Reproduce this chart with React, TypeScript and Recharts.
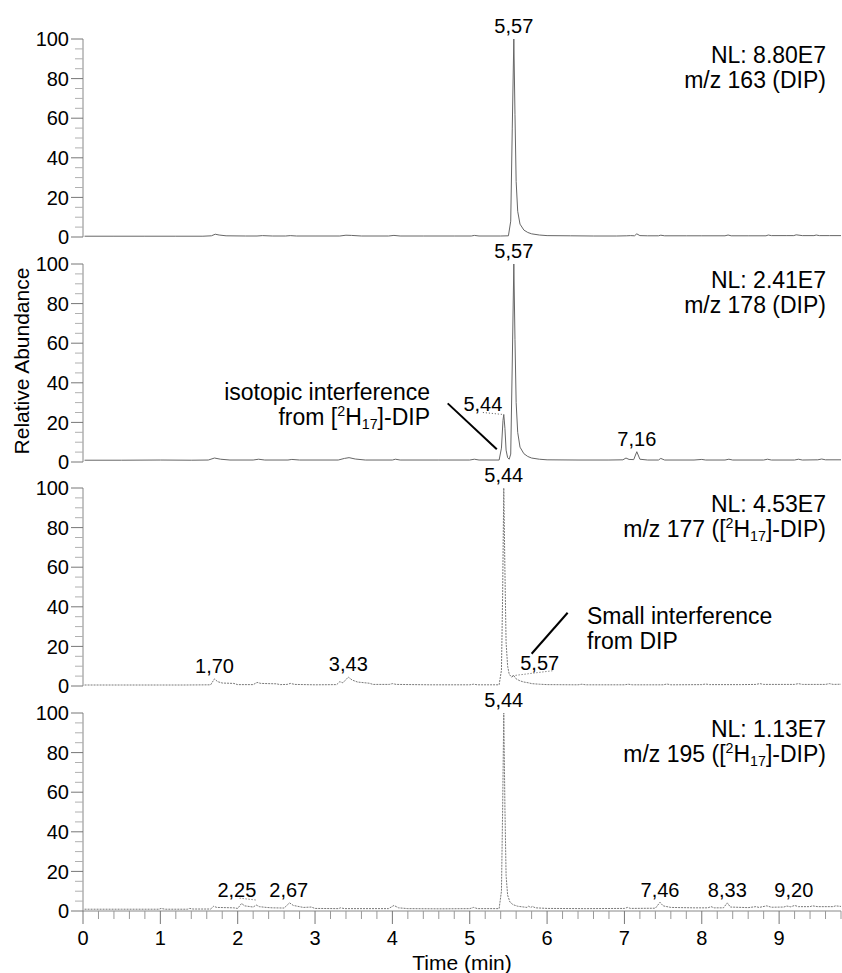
import React from "react";
import { LineChart, Line, XAxis, YAxis, ReferenceDot, ReferenceLine } from "recharts";

const FONT = '"Liberation Sans", Arial, Helvetica, sans-serif';

// [retention time (min), relative abundance (%)]
const trace163: [number, number][] = [
  [0.02, 0.4], [0.4, 0.4], [0.8, 0.4], [1.2, 0.4], [1.55, 0.4], [1.66, 0.6], [1.71, 1.4], [1.76, 1.0],
  [1.85, 0.6], [2.1, 0.5], [2.25, 0.5], [2.32, 0.7], [2.45, 0.5], [2.62, 0.5], [2.68, 0.7], [2.76, 0.5],
  [3.0, 0.5], [3.32, 0.5], [3.4, 0.9], [3.47, 0.8], [3.6, 0.5], [3.95, 0.5], [4.02, 0.8], [4.1, 0.5],
  [4.4, 0.5], [4.8, 0.5], [5.02, 0.5], [5.06, 0.8], [5.12, 0.5], [5.4, 0.5], [5.5, 0.6], [5.53, 8],
  [5.55, 55], [5.57, 100], [5.585, 62], [5.6, 28], [5.62, 13], [5.65, 6.5], [5.7, 3.5], [5.75, 2.3],
  [5.8, 1.6], [5.9, 1.0], [6.0, 0.7], [6.3, 0.6], [6.6, 0.5], [6.9, 0.5], [7.03, 0.6], [7.08, 0.7],
  [7.13, 0.6], [7.16, 1.6], [7.2, 0.7], [7.3, 0.6], [7.44, 0.6], [7.47, 0.9], [7.52, 0.6], [7.8, 0.6],
  [8.0, 0.6], [8.3, 0.6], [8.34, 1.0], [8.38, 0.6], [8.6, 0.6], [8.83, 0.6], [8.86, 1.0], [8.9, 0.7],
  [9.1, 0.7], [9.19, 0.7], [9.22, 1.1], [9.3, 0.7], [9.45, 0.7], [9.48, 1.0], [9.52, 0.7], [9.65, 0.7],
  [9.8, 0.7],
];

const trace178: [number, number][] = [
  [0.02, 0.9], [0.5, 0.9], [1.0, 1.0], [1.4, 0.9], [1.62, 1.0], [1.7, 2.0], [1.78, 1.4], [1.9, 1.0],
  [2.2, 1.0], [2.27, 1.4], [2.35, 1.0], [2.65, 1.0], [2.7, 1.3], [2.8, 1.0], [3.3, 1.0], [3.38, 1.8],
  [3.44, 2.2], [3.52, 1.5], [3.65, 1.0], [4.0, 1.0], [4.04, 1.4], [4.1, 1.0], [4.6, 1.0], [5.0, 1.0],
  [5.06, 1.4], [5.12, 1.0], [5.38, 1.0], [5.41, 7], [5.43, 21], [5.44, 24], [5.455, 17], [5.47, 6],
  [5.49, 2.2], [5.51, 1.4], [5.53, 4], [5.55, 50], [5.57, 100], [5.585, 62], [5.6, 30], [5.62, 15],
  [5.65, 7.5], [5.7, 4.2], [5.75, 2.8], [5.8, 2.0], [5.9, 1.4], [6.0, 1.1], [6.4, 1.0], [6.8, 1.0],
  [6.98, 1.1], [7.02, 2.0], [7.06, 1.3], [7.12, 1.2], [7.16, 5.2], [7.2, 1.4], [7.3, 1.0], [7.44, 1.0],
  [7.47, 1.8], [7.52, 1.0], [7.9, 1.0], [8.0, 1.3], [8.05, 1.0], [8.3, 1.0], [8.35, 1.4], [8.4, 1.0],
  [8.8, 1.0], [8.85, 1.4], [8.9, 1.0], [9.2, 1.0], [9.25, 1.4], [9.3, 1.0], [9.5, 1.1], [9.55, 1.5],
  [9.6, 1.1], [9.8, 1.1],
];

const trace177: [number, number][] = [
  [0.02, 0.5], [0.5, 0.5], [1.0, 0.5], [1.3, 0.5], [1.65, 0.6], [1.7, 3.6], [1.74, 2.2], [1.8, 1.5],
  [1.95, 1.3], [2.0, 0.7], [2.2, 0.7], [2.25, 1.8], [2.3, 1.3], [2.5, 1.1], [2.55, 0.7], [2.64, 0.8],
  [2.68, 1.3], [2.74, 0.8], [3.0, 0.6], [3.28, 0.7], [3.32, 2.2], [3.36, 1.6], [3.43, 4.5], [3.48, 3.0],
  [3.55, 2.0], [3.7, 1.4], [3.75, 0.8], [3.96, 0.8], [4.0, 1.2], [4.05, 0.8], [4.5, 0.6], [5.0, 0.6],
  [5.05, 0.9], [5.1, 0.6], [5.38, 0.6], [5.41, 8], [5.425, 45], [5.44, 100], [5.455, 58], [5.47, 22],
  [5.49, 10], [5.51, 6], [5.54, 4.5], [5.57, 5.2], [5.6, 3.6], [5.65, 2.6], [5.7, 2.0], [5.76, 1.6],
  [5.8, 1.2], [5.9, 0.9], [6.0, 0.7], [6.4, 0.6], [6.45, 0.9], [6.5, 0.6], [7.0, 0.6], [7.05, 0.9],
  [7.1, 0.6], [7.5, 0.6], [7.55, 1.0], [7.6, 0.6], [8.0, 0.7], [8.05, 1.0], [8.1, 0.7], [8.5, 0.7],
  [8.7, 0.8], [8.75, 1.2], [8.8, 0.8], [9.2, 0.8], [9.25, 1.2], [9.3, 0.8], [9.6, 0.8], [9.65, 1.2],
  [9.7, 0.8], [9.8, 0.9],
];

const trace195: [number, number][] = [
  [0.02, 0.9], [0.5, 0.9], [0.98, 0.9], [1.01, 1.3], [1.06, 0.9], [1.35, 0.9], [1.38, 1.3], [1.42, 1.0],
  [1.65, 1.0], [1.69, 2.4], [1.73, 1.8], [1.95, 1.6], [2.0, 1.3], [2.05, 3.8], [2.09, 2.6], [2.2, 2.0],
  [2.24, 3.0], [2.28, 2.2], [2.37, 1.8], [2.45, 1.6], [2.6, 1.5], [2.67, 4.1], [2.72, 2.8], [2.85, 1.8],
  [2.95, 2.0], [3.0, 1.3], [3.3, 1.2], [3.33, 1.6], [3.38, 1.2], [3.95, 1.2], [4.02, 2.8], [4.08, 1.6],
  [4.2, 1.2], [4.6, 1.1], [5.0, 1.2], [5.05, 1.8], [5.1, 1.2], [5.38, 1.2], [5.41, 10], [5.425, 50],
  [5.44, 100], [5.455, 52], [5.47, 18], [5.49, 8], [5.52, 4.5], [5.56, 3.2], [5.62, 2.4], [5.7, 2.0],
  [5.74, 1.8], [5.76, 2.4], [5.79, 1.8], [5.81, 2.3], [5.85, 1.6], [6.0, 1.3], [6.5, 1.2], [7.0, 1.3],
  [7.04, 1.8], [7.08, 1.3], [7.4, 1.4], [7.46, 4.4], [7.5, 2.6], [7.6, 1.8], [7.9, 1.6], [8.08, 1.6],
  [8.12, 2.2], [8.16, 1.6], [8.28, 1.6], [8.33, 4.1], [8.37, 2.0], [8.6, 1.7], [8.7, 2.2], [8.74, 1.8],
  [8.84, 2.6], [8.9, 1.9], [9.06, 2.0], [9.1, 2.5], [9.15, 2.1], [9.2, 2.8], [9.25, 2.2], [9.4, 2.2],
  [9.43, 2.6], [9.5, 2.2], [9.7, 2.2], [9.73, 2.6], [9.8, 2.3],
];

const yTicks = [0, 5, 10, 15, 20, 25, 30, 35, 40, 45, 50, 55, 60, 65, 70, 75, 80, 85, 90, 95, 100];
const xTicks = Array.from({ length: 50 }, (_, i) => Math.round(i * 2) / 10);

type PeakLabel = { t: number; v: number; text: string; pos: "top" | "center" };
type Seg = { a: [number, number]; b: [number, number]; dotted?: boolean };

const labels163: PeakLabel[] = [{ t: 5.57, v: 100, text: "5,57", pos: "top" }];
const labels178: PeakLabel[] = [
  { t: 5.57, v: 100, text: "5,57", pos: "top" },
  { t: 5.17, v: 29.3, text: "5,44", pos: "center" },
  { t: 7.16, v: 5.2, text: "7,16", pos: "top" },
];
const labels177: PeakLabel[] = [
  { t: 5.44, v: 100, text: "5,44", pos: "top" },
  { t: 1.7, v: 3.6, text: "1,70", pos: "top" },
  { t: 3.43, v: 4.5, text: "3,43", pos: "top" },
  { t: 5.905, v: 11.5, text: "5,57", pos: "center" },
];
const labels195: PeakLabel[] = [
  { t: 5.44, v: 100, text: "5,44", pos: "top" },
  { t: 1.99, v: 10.5, text: "2,25", pos: "center" },
  { t: 2.66, v: 10.5, text: "2,67", pos: "center" },
  { t: 7.46, v: 10.5, text: "7,46", pos: "center" },
  { t: 8.33, v: 10.5, text: "8,33", pos: "center" },
  { t: 9.19, v: 10.5, text: "9,20", pos: "center" },
];

const segs178: Seg[] = [
  { a: [5.17, 25], b: [5.43, 24], dotted: true },
  { a: [4.715, 29.6], b: [5.35, 6.4] },
];
const segs177: Seg[] = [
  { a: [5.555, 5.2], b: [6.07, 7.7], dotted: true },
  { a: [6.266, 37], b: [5.8, 16.3] },
];
const segs195: Seg[] = [{ a: [2.025, 6.5], b: [2.245, 5.5], dotted: true }];

const PLOT_TOP = 39;
const PLOT_H = 198;
const STEP = 224.6;
const M_TOP = 30;

const YTick = (props: any) => {
  const { x, y, payload } = props;
  const major = payload.value % 20 === 0;
  return (
    <g>
      <line x1={x - (major ? 12 : 8)} x2={x} y1={y} y2={y} stroke={major ? "#777" : "#b0b0b0"} />
      {major && (
        <text x={x - 14} y={y} dy="0.36em" textAnchor="end" fontSize={20} fontFamily={FONT} fill="#000">
          {payload.value}
        </text>
      )}
    </g>
  );
};

const XTick = (props: any) => {
  const { x, y, payload } = props;
  const major = Math.abs(payload.value - Math.round(payload.value)) < 1e-6;
  return (
    <g>
      <line x1={x} x2={x} y1={y} y2={y + (major ? 13 : 8)} stroke={major ? "#777" : "#999"} />
      {major && (
        <text x={x} y={y + 34} textAnchor="middle" fontSize={20} fontFamily={FONT} fill="#000">
          {payload.value}
        </text>
      )}
    </g>
  );
};

const sup: React.CSSProperties = { fontSize: "0.62em", position: "relative", top: "-0.62em" };
const sub: React.CSSProperties = { fontSize: "0.62em", position: "relative", top: "0.28em" };
const D17 = () => (
  <>
    [<span style={sup}>2</span>H<span style={sub}>17</span>]
  </>
);

function Panel(props: {
  trace: [number, number][];
  labels: PeakLabel[];
  segs?: Seg[];
  dotted?: boolean;
  index: number;
  showX?: boolean;
}) {
  const { trace, labels, segs = [], dotted, index, showX } = props;
  const data = trace.map(([t, v]) => ({ t, v }));
  const bottomSpace = showX ? 62 : 16;
  return (
    <div style={{ position: "absolute", left: 0, top: PLOT_TOP + index * STEP - M_TOP }}>
      <LineChart
        width={842}
        height={M_TOP + PLOT_H + bottomSpace}
        data={data}
        margin={{ top: M_TOP, right: 1, bottom: showX ? 0 : 16, left: 0 }}
      >
        <XAxis
          dataKey="t"
          type="number"
          domain={[0, 9.8]}
          ticks={xTicks}
          interval={0}
          hide={!showX}
          height={62}
          stroke="#888"
          tickSize={0}
          tickMargin={0}
          tick={<XTick />}
          label={{ value: "Time (min)", position: "insideBottom", offset: 3, fontSize: 21, fontFamily: FONT, fill: "#000" }}
        />
        <YAxis
          type="number"
          domain={[0, 100]}
          ticks={yTicks}
          interval={0}
          width={83}
          stroke="#888"
          tickSize={0}
          tickMargin={0}
          tick={<YTick />}
        />
        <Line
          dataKey="v"
          type="linear"
          stroke={dotted ? "#7a7a7a" : "#666"}
          strokeWidth={1}
          strokeDasharray={dotted ? "2 1" : undefined}
          dot={false}
          activeDot={false}
          isAnimationActive={false}
        />
        {segs.map((s, i) => (
          <ReferenceLine
            key={"s" + i}
            segment={[{ x: s.a[0], y: s.a[1] }, { x: s.b[0], y: s.b[1] }]}
            stroke={s.dotted ? "#555" : "#000"}
            strokeWidth={s.dotted ? 1 : 2}
            strokeDasharray={s.dotted ? "1 2" : undefined}
            ifOverflow="visible"
          />
        ))}
        {labels.map((l, i) => (
          <ReferenceDot
            key={"l" + i}
            x={l.t}
            y={l.v}
            r={0}
            fill="none"
            stroke="none"
            label={{
              value: l.text,
              position: l.pos,
              offset: l.pos === "top" ? 6 : 0,
              fontSize: 20,
              fontFamily: FONT,
              fill: "#000",
            }}
          />
        ))}
      </LineChart>
    </div>
  );
}

const noteStyle: React.CSSProperties = {
  position: "absolute",
  fontFamily: FONT,
  fontSize: 23,
  lineHeight: "25px",
  color: "#000",
  whiteSpace: "nowrap",
};

function Note({ index, nl, children }: { index: number; nl: string; children: React.ReactNode }) {
  return (
    <div style={{ ...noteStyle, right: 16, top: PLOT_TOP + index * STEP + 4, textAlign: "right" }}>
      <div>{nl}</div>
      <div>{children}</div>
    </div>
  );
}

export default function App() {
  return (
    <div style={{ position: "absolute", left: 0, top: 0, width: 842, height: 973, background: "#fff", overflow: "hidden" }}>
      <Panel trace={trace163} labels={labels163} index={0} />
      <Panel trace={trace178} labels={labels178} segs={segs178} index={1} />
      <Panel trace={trace177} labels={labels177} segs={segs177} index={2} dotted />
      <Panel trace={trace195} labels={labels195} segs={segs195} index={3} dotted showX />

      <Note index={0} nl="NL: 8.80E7">m/z 163 (DIP)</Note>
      <Note index={1} nl="NL: 2.41E7">m/z 178 (DIP)</Note>
      <Note index={2} nl="NL: 4.53E7">
        m/z 177 (<D17 />-DIP)
      </Note>
      <Note index={3} nl="NL: 1.13E7">
        m/z 195 (<D17 />-DIP)
      </Note>

      <div style={{ ...noteStyle, right: 842 - 430, top: 380, textAlign: "right" }}>
        <div>isotopic interference</div>
        <div>
          from <D17 />-DIP
        </div>
      </div>
      <div style={{ ...noteStyle, left: 587, top: 604, textAlign: "left" }}>
        <div>Small interference</div>
        <div>from DIP</div>
      </div>

      <div
        style={{
          position: "absolute",
          left: 22 - 150,
          top: 361 - 13,
          width: 300,
          height: 26,
          lineHeight: "26px",
          textAlign: "center",
          transform: "rotate(-90deg)",
          fontFamily: FONT,
          fontSize: 21,
          color: "#000",
          whiteSpace: "nowrap",
        }}
      >
        Relative Abundance
      </div>
    </div>
  );
}
